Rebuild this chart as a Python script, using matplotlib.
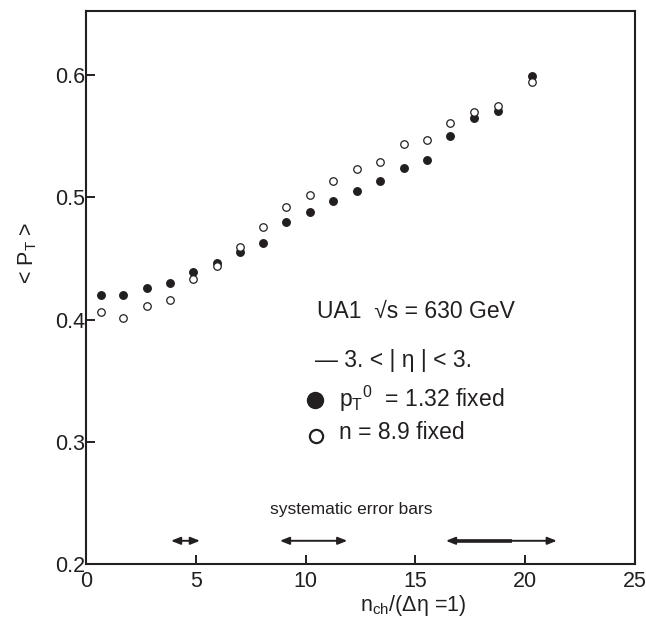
import matplotlib
matplotlib.use("Agg")
import matplotlib.pyplot as plt

plt.rcParams['font.family'] = ['Liberation Sans', 'DejaVu Sans']
plt.rcParams['mathtext.fontset'] = 'custom'
plt.rcParams['mathtext.rm'] = 'Liberation Sans'
plt.rcParams['mathtext.it'] = 'Liberation Sans:italic'

ink = '#231f20'

# multiplicity bins (n_ch per unit eta)
nch = [0.67, 1.67, 2.76, 3.83, 4.89, 5.98, 7.01, 8.07, 9.11, 10.19,
       11.26, 12.33, 13.39, 14.49, 15.54, 16.59, 17.65, 18.75, 20.30]
# <pT> with pT0 = 1.32 fixed (filled)
pt_fixed_p0 = [0.420, 0.420, 0.426, 0.430, 0.439, 0.4465, 0.455, 0.463, 0.480, 0.488,
               0.497, 0.505, 0.513, 0.524, 0.5305, 0.550, 0.565, 0.571, 0.599]
# <pT> with n = 8.9 fixed (open)
pt_fixed_n = [0.406, 0.401, 0.411, 0.416, 0.433, 0.444, 0.459, 0.476, 0.492, 0.502,
              0.513, 0.523, 0.529, 0.544, 0.547, 0.561, 0.570, 0.575, 0.594]

# systematic error bar arrows (x range), drawn at one height
sys_bars = [(3.87, 5.19), (8.83, 11.90), (16.39, 21.44)]
sys_y = 0.219

fig = plt.figure(figsize=(6.46, 6.2), dpi=100)
ax = fig.add_axes([0.1331, 0.0903, 0.983 - 0.1331, 0.9823 - 0.0903])

ax.plot(nch, pt_fixed_p0, 'o', ms=5.4, color=ink, mec=ink)
ax.plot(nch, pt_fixed_n, 'o', ms=5.4, mfc='white', mec=ink, mew=0.9)

ax.set_xlim(0, 25)
ax.set_ylim(0.2, 0.6525)
ax.set_xticks([0, 5, 10, 15, 20, 25])
ax.set_yticks([0.2, 0.3, 0.4, 0.5, 0.6])
ax.set_xticklabels(['0', '5', '10', '15', '20', '25'])
ax.set_yticklabels(['0.2', '0.3', '0.4', '0.5', '0.6'])
ax.tick_params(direction='in', length=6.5, width=1.4, labelsize=15.5, colors=ink)
ax.tick_params(axis='x', pad=5)
ax.tick_params(axis='y', pad=0.5)
for s in ax.spines.values():
    s.set_linewidth(1.5)
    s.set_color(ink)

ax.set_ylabel('< P$_{\\rm T}$ >', fontsize=15.5, color=ink)
ax.yaxis.set_label_coords(-0.085, 0.562)
ax.set_xlabel('n$_{\\rm ch}$/(\u0394\u03b7 =1)', fontsize=15.5, color=ink)
ax.xaxis.set_label_coords(0.596, -0.052)

# annotations
ax.text(10.52, 0.4064, 'UA1  \u221as = 630 GeV', fontsize=16.5, color=ink, va='center')
ax.text(10.43, 0.3669, '\u2014 3. < | \u03b7 | < 3.', fontsize=16.5, color=ink, va='center')
ax.plot([10.43], [0.3342], 'o', ms=11.5, color=ink)
ax.text(11.52, 0.3355, 'p$_{\\rm T}$$^{\\rm 0}$  = 1.32 fixed', fontsize=16.5, color=ink, va='center')
ax.plot([10.47], [0.3050], 'o', ms=9.5, mfc='white', mec=ink, mew=1.6)
ax.text(11.52, 0.3072, 'n = 8.9 fixed', fontsize=16.5, color=ink, va='center')

ax.text(12.09, 0.2442, 'systematic error bars', fontsize=12.5, color=ink,
        ha='center', va='center')
for x0, x1 in sys_bars:
    ax.annotate('', xy=(x1, sys_y), xytext=(x0, sys_y),
                arrowprops=dict(arrowstyle='<|-|>,head_length=0.55,head_width=0.22',
                                color=ink, lw=1.4, shrinkA=0, shrinkB=0))
# thicker left part of last bar
ax.plot([16.7, 19.39], [sys_y, sys_y], color=ink, lw=2.6, solid_capstyle='butt')

fig.savefig('out.png', dpi=100)
